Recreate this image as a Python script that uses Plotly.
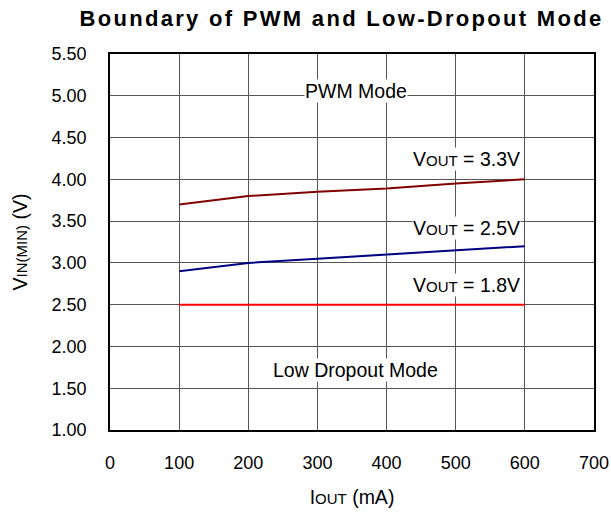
import plotly.graph_objects as go

iout = [100, 200, 300, 400, 500, 600]
v33 = [3.70, 3.80, 3.85, 3.89, 3.95, 4.00]
v25 = [2.90, 3.00, 3.05, 3.10, 3.15, 3.20]
v18 = [2.50, 2.50, 2.50, 2.50, 2.50, 2.50]
xticks = [0, 100, 200, 300, 400, 500, 600, 700]
yticks = [1.0, 1.5, 2.0, 2.5, 3.0, 3.5, 4.0, 4.5, 5.0, 5.5]
ytick_text = [f"{v:.2f}" for v in yticks]

font = "Liberation Sans, Arial, sans-serif"
sub = '<span style="font-size:15px">{}</span>'

fig = go.Figure()
fig.add_trace(go.Scatter(x=iout, y=v33, mode="lines", line=dict(color="#800000", width=2), showlegend=False))
fig.add_trace(go.Scatter(x=iout, y=v25, mode="lines", line=dict(color="#000080", width=2), showlegend=False))
fig.add_trace(go.Scatter(x=iout, y=v18, mode="lines", line=dict(color="#FF0000", width=2), showlegend=False))

labels = [
    (356, 5.057, "PWM Mode"),
    (515, 4.243, "V" + sub.format("OUT") + " = 3.3V"),
    (515, 3.417, "V" + sub.format("OUT") + " = 2.5V"),
    (515, 2.735, "V" + sub.format("OUT") + " = 1.8V"),
    (355, 1.718, "Low Dropout Mode"),
]
for x, y, t in labels:
    fig.add_annotation(x=x, y=y, text=t, showarrow=False, bgcolor="white",
                       font=dict(family=font, size=19.5, color="black"), borderpad=0)

fig.update_layout(
    width=611, height=513,
    margin=dict(l=110, r=17, t=54, b=83),
    paper_bgcolor="white", plot_bgcolor="white",
    title=dict(text="<b>Boundary of PWM and Low-Dropout Mode</b>", x=341.5 / 611, xanchor="center",
               y=1 - 18 / 513, yanchor="middle", font=dict(family=font, size=22, color="black")),
    font=dict(family=font, size=18, color="black"),
)
fig.update_xaxes(range=[0, 700], tickvals=xticks, showgrid=True, gridcolor="#555555", gridwidth=1,
                 showline=True, linecolor="black", linewidth=1.5, mirror=True, zeroline=False,
                 ticks="", ticklabelstandoff=16, tickfont=dict(size=18), automargin=False,
                 title=dict(text="I" + sub.format("OUT") + " (mA)", font=dict(size=19.5), standoff=18))
fig.update_yaxes(range=[1.0, 5.5], tickvals=yticks, ticktext=ytick_text, showgrid=True,
                 gridcolor="#555555", gridwidth=1, showline=True, linecolor="black", linewidth=1.5,
                 mirror=True, zeroline=False, ticks="", ticklabelstandoff=18, tickfont=dict(size=18),
                 automargin=False,
                 title=dict(text="V" + sub.format("IN(MIN)") + " (V)", font=dict(size=19.5), standoff=19))

post = """
document.body.style.margin='0';
document.querySelectorAll('.gtitle').forEach(function(e){ e.style.letterSpacing='2.3px'; });
"""
fig.write_html("out.html", post_script=post, config={"displayModeBar": False})
